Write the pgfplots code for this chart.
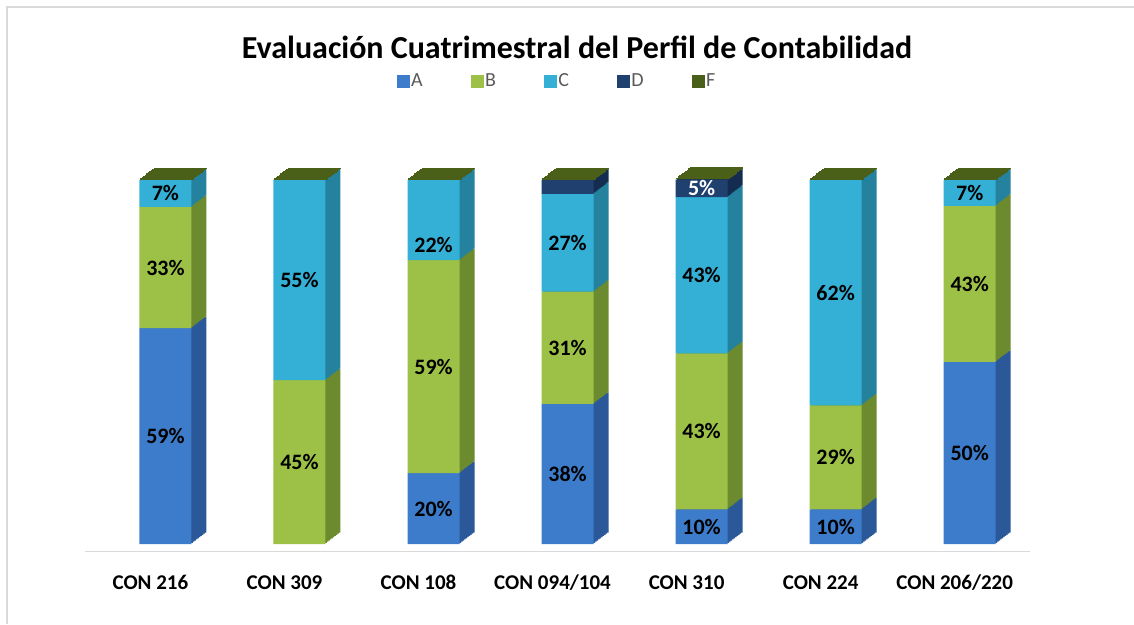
\documentclass[border=0pt]{standalone}
\usepackage{fontspec}
\setmainfont{Carlito}
\usepackage{pgfplots}
\usepackage{pgfplotstable}
\pgfplotsset{compat=1.18}

\definecolor{Ac}{HTML}{3C7CCB}
\definecolor{As}{HTML}{2A5898}
\definecolor{Bc}{HTML}{9DC146}
\definecolor{Bs}{HTML}{6C8A2E}
\definecolor{Cc}{HTML}{34AFD5}
\definecolor{Cs}{HTML}{24829E}
\definecolor{Dc}{HTML}{20406F}
\definecolor{Ds}{HTML}{142C50}
\definecolor{Fc}{HTML}{4A6019}
\definecolor{frame}{HTML}{D9D9D9}

\tikzset{
  ext/.style={
    preaction={fill=#1,transform canvas={shift={(15pt,11.5pt)}}},
    preaction={fill=#1,transform canvas={shift={(13.5pt,10.35pt)}}},
    preaction={fill=#1,transform canvas={shift={(12pt,9.2pt)}}},
    preaction={fill=#1,transform canvas={shift={(10.5pt,8.05pt)}}},
    preaction={fill=#1,transform canvas={shift={(9pt,6.9pt)}}},
    preaction={fill=#1,transform canvas={shift={(7.5pt,5.75pt)}}},
    preaction={fill=#1,transform canvas={shift={(6pt,4.6pt)}}},
    preaction={fill=#1,transform canvas={shift={(4.5pt,3.45pt)}}},
    preaction={fill=#1,transform canvas={shift={(3pt,2.3pt)}}},
    preaction={fill=#1,transform canvas={shift={(1.5pt,1.15pt)}}}
  },
  topface/.style={
    preaction={draw=#1,line width=1.6pt,transform canvas={shift={(15pt,11.5pt)}}},
    preaction={draw=#1,line width=1.6pt,transform canvas={shift={(13.5pt,10.35pt)}}},
    preaction={draw=#1,line width=1.6pt,transform canvas={shift={(12pt,9.2pt)}}},
    preaction={draw=#1,line width=1.6pt,transform canvas={shift={(10.5pt,8.05pt)}}},
    preaction={draw=#1,line width=1.6pt,transform canvas={shift={(9pt,6.9pt)}}},
    preaction={draw=#1,line width=1.6pt,transform canvas={shift={(7.5pt,5.75pt)}}},
    preaction={draw=#1,line width=1.6pt,transform canvas={shift={(6pt,4.6pt)}}},
    preaction={draw=#1,line width=1.6pt,transform canvas={shift={(4.5pt,3.45pt)}}},
    preaction={draw=#1,line width=1.6pt,transform canvas={shift={(3pt,2.3pt)}}},
    preaction={draw=#1,line width=1.6pt,transform canvas={shift={(1.5pt,1.15pt)}}}
  }
}

\pgfplotstableread{
x A B C D F
0 59.3 33.3 7.4 0 0.01
1 0 45 55 0 0.01
2 19.5 58.5 22 0 0.01
3 38.5 30.8 26.9 3.8 0.01
4 9.5 42.9 42.9 4.8 0.01
5 9.5 28.6 61.9 0 0.01
6 50 42.9 7.1 0 0.01
}\data

\pgfplotstableread{
x y lab
0 29.65 59\%
0 75.95 33\%
0 96.3 7\%
1 22.5 45\%
1 72.5 55\%
2 9.75 20\%
2 48.75 59\%
2 82 22\%
3 19.25 38\%
3 53.9 31\%
3 82.75 27\%
4 4.75 10\%
4 30.95 43\%
4 73.85 43\%
5 4.75 10\%
5 23.8 29\%
5 69.05 62\%
6 25 50\%
6 71.45 43\%
6 96.45 7\%
}\labblack

\pgfplotstableread{
x y lab
4 97.7 5\%
}\labwhite

\begin{document}
\begin{tikzpicture}
\useasboundingbox (0,0) rectangle (1134pt,-624pt);
\draw[frame, line width=2pt] (7pt,-624pt) -- (7pt,-7pt) -- (1134pt,-7pt);
\node[anchor=base, font=\bfseries\fontsize{32}{36}\selectfont] at (577pt,-58.3pt)
  {Evaluación Cuatrimestral del Perfil de Contabilidad};

\begin{axis}[
  at={(85pt,-551.3pt)}, anchor=south west,
  scale only axis, width=945pt, height=385.9pt,
  xmin=-0.6, xmax=6.45, ymin=-2, ymax=104,
  clip=false,
  ybar stacked, bar width=52pt,
  reverse stacked plots=false,
  axis x line*=bottom, axis y line=none,
  axis line style={draw=frame, line width=1.5pt, -},
  xtick={0,...,6},
  xticklabels={CON 216,CON 309,CON 108,CON 094/104,CON 310,CON 224,CON 206/220},
  major tick length=0pt,
  xticklabel style={anchor=base, yshift=-37.7pt, xshift=-15pt, font=\bfseries\fontsize{21}{25}\selectfont},
  legend columns=5,
  legend style={at={(0.4994,1.2187)}, anchor=center, draw=none, fill=none,
    font=\fontsize{20}{24}\selectfont, text=black!65,
    /tikz/every even column/.append style={column sep=46pt}},
]
\addplot[forget plot, draw=none, fill=Ac, ext=As] table[x=x,y=A] {\data};
\addplot[forget plot, draw=none, fill=Bc, ext=Bs] table[x=x,y=B] {\data};
\addplot[forget plot, draw=none, fill=Cc, ext=Cs] table[x=x,y=C] {\data};
\addplot[forget plot, draw=none, fill=Dc, ext=Ds] table[x=x,y=D] {\data};
\addplot[forget plot, draw=none, fill=Fc, topface=Fc] table[x=x,y=F] {\data};
\addlegendimage{legend image code/.code={\fill[Ac] (0pt,-6pt) rectangle (12pt,6pt);}}
\addlegendentry{A}
\addlegendimage{legend image code/.code={\fill[Bc] (0pt,-6pt) rectangle (12pt,6pt);}}
\addlegendentry{B}
\addlegendimage{legend image code/.code={\fill[Cc] (0pt,-6pt) rectangle (12pt,6pt);}}
\addlegendentry{C}
\addlegendimage{legend image code/.code={\fill[Dc] (0pt,-6pt) rectangle (12pt,6pt);}}
\addlegendentry{D}
\addlegendimage{legend image code/.code={\fill[Fc] (0pt,-6pt) rectangle (12pt,6pt);}}
\addlegendentry{F}
\end{axis}

\begin{axis}[
  at={(85pt,-551.3pt)}, anchor=south west,
  scale only axis, width=945pt, height=385.9pt,
  xmin=-0.6, xmax=6.45, ymin=-2, ymax=104,
  clip=false, hide axis,
]
\addplot[draw=none, mark=none, nodes near coords, point meta=explicit symbolic,
  every node near coord/.append style={anchor=center, inner sep=0pt,
    font=\bfseries\fontsize{22}{26}\selectfont, text=black}]
  table[x=x, y=y, meta=lab] {\labblack};
\addplot[draw=none, mark=none, nodes near coords, point meta=explicit symbolic,
  every node near coord/.append style={anchor=center, inner sep=0pt,
    font=\bfseries\fontsize{22}{26}\selectfont, text=white}]
  table[x=x, y=y, meta=lab] {\labwhite};
\end{axis}
\end{tikzpicture}
\end{document}
